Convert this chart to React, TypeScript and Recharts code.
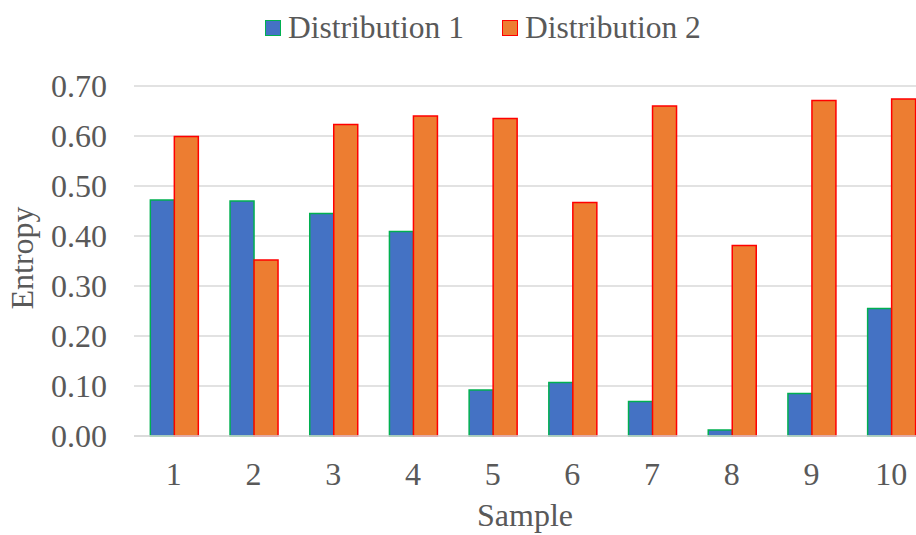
import React from 'react';
import { BarChart, Bar, XAxis, YAxis, CartesianGrid, Legend } from 'recharts';

const samples = ['1', '2', '3', '4', '5', '6', '7', '8', '9', '10'];
const distribution1 = [0.472, 0.47, 0.445, 0.409, 0.092, 0.107, 0.069, 0.012, 0.085, 0.255];
const distribution2 = [0.599, 0.352, 0.623, 0.64, 0.635, 0.467, 0.66, 0.381, 0.671, 0.674];
const yTicks = [0, 0.1, 0.2, 0.3, 0.4, 0.5, 0.6, 0.7];

const data = samples.map((s, i) => ({
  sample: s,
  d1: distribution1[i],
  d2: distribution2[i],
}));

const FONT = '"Liberation Serif", "Times New Roman", serif';
const TEXT = '#595959';

const legendItems = [
  { name: 'Distribution 1', fill: '#4472C4', stroke: '#00B050' },
  { name: 'Distribution 2', fill: '#ED7D31', stroke: '#FF0000' },
];

function ChartLegend() {
  return (
    <div style={{ display: 'flex', alignItems: 'center', height: 40, fontFamily: FONT, fontSize: 31.5, color: TEXT }}>
      {legendItems.map((item, i) => (
        <div key={i} style={{ display: 'flex', alignItems: 'center', marginRight: 38, whiteSpace: 'nowrap' }}>
          <span
            style={{
              display: 'inline-block',
              width: 14,
              height: 14,
              background: item.fill,
              border: `1.5px solid ${item.stroke}`,
              marginRight: 7,
            }}
          />
          <span>{item.name}</span>
        </div>
      ))}
    </div>
  );
}

export default function App() {
  return (
    <div style={{ position: 'absolute', left: 0, top: 0, width: 916, height: 535, overflow: 'hidden', background: '#fff' }}>
      <BarChart
        width={940}
        height={535}
        data={data}
        margin={{ top: 46, right: 9, bottom: 0, left: 0 }}
        barCategoryGap="20.5%"
        barGap={0}
      >
        <CartesianGrid vertical={false} stroke="#d9d9d9" strokeWidth={1.5} />
        <XAxis
          dataKey="sample"
          height={99}
          axisLine={{ stroke: '#d9d9d9', strokeWidth: 1.5 }}
          tickLine={false}
          tickSize={0}
          tickMargin={26}
          tick={{ fill: TEXT, fontSize: 32, fontFamily: FONT }}
          label={{
            content: () => (
              <text x={525} y={526} textAnchor="middle" fill={TEXT} fontSize={32} fontFamily={FONT}>
                Sample
              </text>
            ),
          }}
        />
        <YAxis
          width={134}
          domain={[0, 0.7]}
          ticks={yTicks}
          interval={0}
          axisLine={false}
          tickLine={false}
          tickSize={0}
          tickMargin={27}
          tickFormatter={(v: number) => v.toFixed(2)}
          tick={{ fill: TEXT, fontSize: 32, fontFamily: FONT }}
          label={{
            content: () => (
              <text
                x={0}
                y={0}
                transform="translate(33,258) rotate(-90)"
                textAnchor="middle"
                fill={TEXT}
                fontSize={32}
                fontFamily={FONT}
              >
                Entropy
              </text>
            ),
          }}
        />
        <Legend
          verticalAlign="top"
          content={() => <ChartLegend />}
          wrapperStyle={{ top: 8, left: 265, width: 480 }}
        />
        <Bar dataKey="d1" name="Distribution 1" fill="#4472C4" stroke="#00B050" strokeWidth={1.5} isAnimationActive={false} />
        <Bar dataKey="d2" name="Distribution 2" fill="#ED7D31" stroke="#FF0000" strokeWidth={1.5} isAnimationActive={false} />
      </BarChart>
    </div>
  );
}
